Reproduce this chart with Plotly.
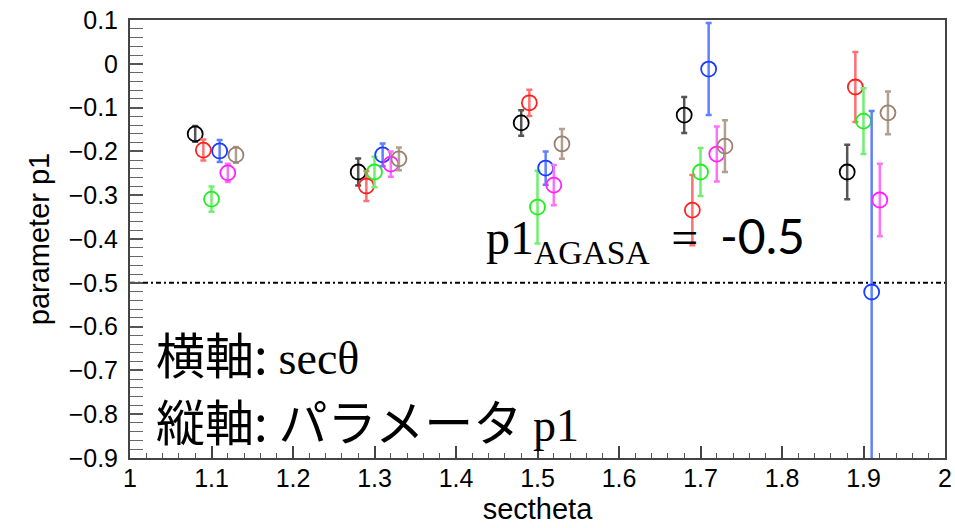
import plotly.graph_objects as go

# ---- data ----
series_names = ["black", "red", "green", "blue", "magenta", "brown"]
marker_colors = ["#000000", "#ff2020", "#22ee22", "#1a3cff", "#ff22ff", "#9a8070"]
bar_colors = ["#555555", "#ff7070", "#70f070", "#6080ff", "#ff70ff", "#b0a090"]

x_black = [1.08, 1.28, 1.48, 1.68, 1.88]
x_red = [1.09, 1.29, 1.49, 1.69, 1.89]
x_green = [1.10, 1.30, 1.50, 1.70, 1.90]
x_blue = [1.11, 1.31, 1.51, 1.71, 1.91]
x_magenta = [1.12, 1.32, 1.52, 1.72, 1.92]
x_brown = [1.13, 1.33, 1.53, 1.73, 1.93]

y_black = [-0.160, -0.247, -0.135, -0.117, -0.247]
y_red = [-0.197, -0.279, -0.089, -0.334, -0.053]
y_green = [-0.309, -0.247, -0.327, -0.247, -0.131]
y_blue = [-0.199, -0.208, -0.238, -0.012, -0.521]
y_magenta = [-0.249, -0.229, -0.277, -0.206, -0.311]
y_brown = [-0.208, -0.217, -0.183, -0.188, -0.112]

e_black = [0.018, 0.031, 0.029, 0.041, 0.062]
e_red = [0.024, 0.034, 0.030, 0.080, 0.080]
e_green = [0.029, 0.035, 0.083, 0.055, 0.075]
e_blue = [0.025, 0.026, 0.038, 0.105, 0.413]
e_magenta = [0.021, 0.029, 0.046, 0.063, 0.083]
e_brown = [0.018, 0.026, 0.034, 0.059, 0.049]

x_tickvals = [1.0, 1.1, 1.2, 1.3, 1.4, 1.5, 1.6, 1.7, 1.8, 1.9, 2.0]
x_ticktext = ["1", "1.1", "1.2", "1.3", "1.4", "1.5", "1.6", "1.7", "1.8", "1.9", "2"]
y_tickvals = [0.1, 0.0, -0.1, -0.2, -0.3, -0.4, -0.5, -0.6, -0.7, -0.8, -0.9]
y_ticktext = ["0.1", "0", "\u22120.1", "\u22120.2", "\u22120.3", "\u22120.4", "\u22120.5",
              "\u22120.6", "\u22120.7", "\u22120.8", "\u22120.9"]

xs = [x_black, x_red, x_green, x_blue, x_magenta, x_brown]
ys = [y_black, y_red, y_green, y_blue, y_magenta, y_brown]
es = [e_black, e_red, e_green, e_blue, e_magenta, e_brown]

agasa_value = -0.5
x_range = [1, 2]
y_range = [-0.9, 0.1]

fig = go.Figure()

# reference line p1 = -0.5
fig.add_trace(go.Scatter(
    x=x_range, y=[agasa_value, agasa_value], mode="lines",
    line=dict(color="#000000", width=2, dash="5px,3px,2px,3px"),
    showlegend=False, hoverinfo="skip"))

for name, x, y, e, mc, bc in zip(series_names, xs, ys, es, marker_colors, bar_colors):
    fig.add_trace(go.Scatter(
        x=x, y=y, mode="markers", name=name, showlegend=False,
        marker=dict(symbol="circle-open", size=15, color=mc,
                    line=dict(width=1.8, color=mc)),
        error_y=dict(type="data", array=e, visible=True, color=bc,
                     thickness=2.5, width=3),
        cliponaxis=True))

tickfont = dict(family="Liberation Sans, Arial, sans-serif", size=25, color="#000000")
titlefont = dict(family="Liberation Sans, Arial, sans-serif", size=29, color="#000000")

fig.update_xaxes(
    range=x_range, tickmode="array", tickvals=x_tickvals, ticktext=x_ticktext,
    ticks="inside", ticklen=12, tickwidth=1.5, tickcolor="#444444",
    minor=dict(dtick=0.02, tick0=1, ticks="inside", ticklen=5, tickwidth=1.2, tickcolor="#555555"),
    showline=True, linecolor="#444444", linewidth=2, mirror=True,
    showgrid=False, zeroline=False, tickfont=tickfont, tickangle=0,
    ticklabelstandoff=-3, automargin=False,
    title=dict(text="sectheta", font=titlefont, standoff=8))

fig.update_yaxes(
    range=y_range, tickmode="array", tickvals=y_tickvals, ticktext=y_ticktext,
    ticks="inside", ticklen=13, tickwidth=1.5, tickcolor="#555555",
    minor=dict(dtick=0.02, tick0=0, ticks="inside", ticklen=13, tickwidth=1.2, tickcolor="#666666"),
    showline=True, linecolor="#444444", linewidth=2, mirror=True,
    showgrid=False, zeroline=False, tickfont=tickfont,
    ticklabelstandoff=5, automargin=False,
    title=dict(text="parameter p1", font=titlefont, standoff=10))

serif = "Liberation Serif"
fig.add_annotation(
    x=1.434, y=-0.40, xref="x", yref="y", xanchor="left", yanchor="middle",
    showarrow=False,
    text=("<span style='font-family:" + serif + "'>p1<sub>AGASA</sub>\u2009 = \u2009</span>"
          "<span style='font-family:Lato'>-0.5</span>"),
    font=dict(family=serif, size=48, color="#000000"))

fig.add_annotation(
    x=1.029, y=-0.658, xref="x", yref="y", xanchor="left", yanchor="middle",
    showarrow=False,
    text="横軸: <span style='font-family:" + serif + ";font-size:46px'>secθ</span>",
    font=dict(family="Noto Sans CJK JP", size=49, color="#000000"))

fig.add_annotation(
    x=1.029, y=-0.812, xref="x", yref="y", xanchor="left", yanchor="middle",
    showarrow=False,
    text="縦軸: パラメータ <span style='font-family:" + serif + ";font-size:46px'>p1</span>",
    font=dict(family="Noto Sans CJK JP", size=49, color="#000000"))

fig.update_layout(
    width=955, height=528,
    margin=dict(l=130, r=10, t=20, b=70),
    paper_bgcolor="#ffffff", plot_bgcolor="#ffffff",
    showlegend=False)

fig.write_html("out.html")
